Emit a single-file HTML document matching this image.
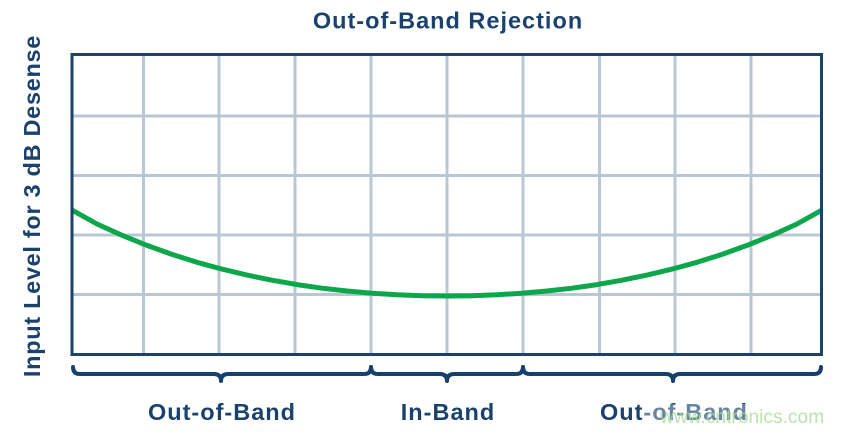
<!DOCTYPE html>
<html>
<head>
<meta charset="utf-8">
<style>
  html, body { margin: 0; padding: 0; background: #ffffff; }
  body { width: 844px; height: 434px; overflow: hidden; }
  svg { display: block; }
  .t { font-family: "Liberation Sans", Arial, sans-serif; font-weight: bold; fill: #1a426d; font-size: 23.5px; letter-spacing: 1px; }
</style>
</head>
<body>
<svg width="844" height="434" viewBox="0 0 844 434" xmlns="http://www.w3.org/2000/svg">
  <rect x="0" y="0" width="844" height="434" fill="#ffffff"/>

  <!-- Title -->
  <text class="t" x="448" y="28.5" text-anchor="middle">Out-of-Band Rejection</text>

  <!-- Y axis label -->
  <text class="t" style="letter-spacing:0.7px" transform="translate(40,206) rotate(-90)" x="0" y="0" text-anchor="middle">Input Level for 3 dB Desense</text>

  <!-- Grid -->
  <g stroke="#b9c7d5" stroke-width="3" fill="none">
    <line x1="143.5" y1="55" x2="143.5" y2="354"/>
    <line x1="219" y1="55" x2="219" y2="354"/>
    <line x1="295" y1="55" x2="295" y2="354"/>
    <line x1="371" y1="55" x2="371" y2="354"/>
    <line x1="447" y1="55" x2="447" y2="354"/>
    <line x1="523" y1="55" x2="523" y2="354"/>
    <line x1="599.5" y1="55" x2="599.5" y2="354"/>
    <line x1="675" y1="55" x2="675" y2="354"/>
    <line x1="751" y1="55" x2="751" y2="354"/>
    <line x1="72" y1="116" x2="821" y2="116"/>
    <line x1="72" y1="175.5" x2="821" y2="175.5"/>
    <line x1="72" y1="235" x2="821" y2="235"/>
    <line x1="72" y1="294.5" x2="821" y2="294.5"/>
  </g>

  <!-- Curve -->
  <defs>
    <clipPath id="plot"><rect x="73.5" y="56" width="746.5" height="297"/></clipPath>
  </defs>
  <path clip-path="url(#plot)" fill="none" stroke="#0ca64b" stroke-width="5" stroke-linejoin="round"
    d="M72,210 L97,224 L122,235.3 L147,245.4 L172,254.4 L197,262.3 L222,269.1 L247,275.1 L272,280.2 L297,284.6 L322,288.2 L347,291 L372,293.2 L397,294.8 L422,295.7 L447,296 L472,295.7 L497,294.8 L522,293.2 L547,291 L572,288.2 L597,284.6 L622,280.2 L647,275.1 L672,269.1 L697,262.3 L722,254.4 L747,245.4 L772,235.3 L797,224 L822,210"/>

  <!-- Plot border -->
  <rect x="72" y="54.5" width="749.5" height="300" fill="none" stroke="#1a426d" stroke-width="3"/>

  <!-- Braces -->
  <g fill="none" stroke="#17416d" stroke-width="4" stroke-linecap="round" stroke-linejoin="round">
    <path d="M73,367 Q73,374 80,374 L214,374 Q221,374 221,381 Q221,374 228,374 L364,374 Q371,374 371,367"/>
    <path d="M371,367 Q371,374 378,374 L440,374 Q447,374 447,381 Q447,374 454,374 L516,374 Q523,374 523,367"/>
    <path d="M523,367 Q523,374 530,374 L666,374 Q673,374 673,381 Q673,374 680,374 L814,374 Q821,374 821,367"/>
  </g>

  <!-- Bottom labels -->
  <text class="t" x="222" y="420" text-anchor="middle">Out-of-Band</text>
  <text class="t" x="448" y="420" text-anchor="middle">In-Band</text>
  <text class="t" x="674" y="420" text-anchor="middle">Out-of-Band</text>

  <!-- Watermark -->
  <rect x="643" y="404" width="201" height="30" fill="#ffffff" fill-opacity="0.35"/>
  <text x="660" y="423" font-family="Liberation Sans, Arial, sans-serif" font-size="19.2" fill="#a9dc9a" fill-opacity="0.8">www.cntronics.com</text>
</svg>
</body>
</html>
